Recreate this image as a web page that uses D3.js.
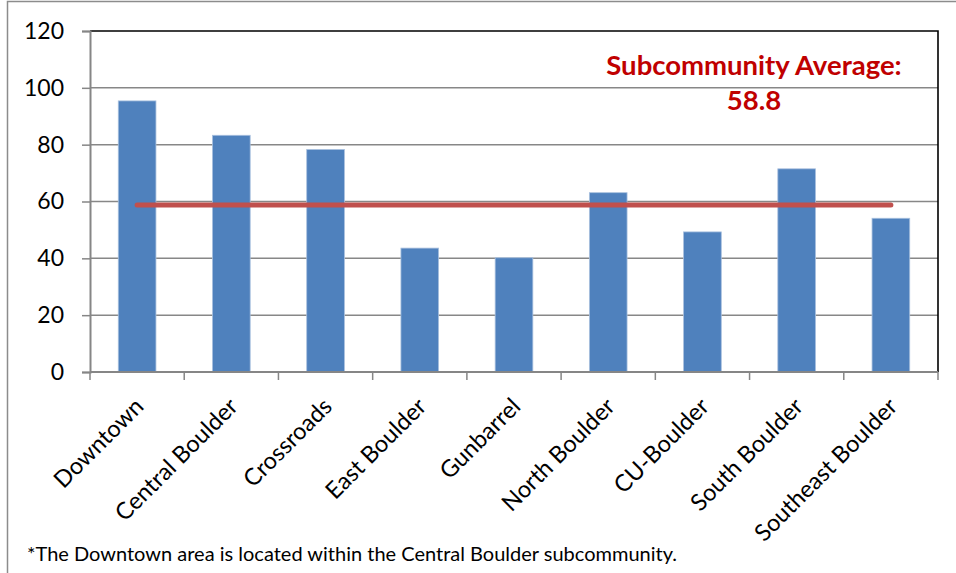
<!DOCTYPE html>
<html>
<head>
<meta charset="utf-8">
<script src="https://cdn.jsdelivr.net/npm/d3@7"></script>
<style>
  html, body { margin: 0; padding: 0; background: #fff; }
  svg { display: block; font-family: Lato, "Open Sans", sans-serif; }
</style>
</head>
<body>
<svg id="chart" width="956" height="573"></svg>
<script>
// Subcommunity scores
const categories = ["Downtown", "Central Boulder", "Crossroads", "East Boulder", "Gunbarrel",
                    "North Boulder", "CU-Boulder", "South Boulder", "Southeast Boulder"];
const values = [95.4, 83.3, 78.3, 43.6, 40.2, 63.1, 49.3, 71.5, 54.1];
const averageValue = 58.8;
const yTicks = [0, 20, 40, 60, 80, 100, 120];
const averageLabel = ["Subcommunity Average:", "58.8"];
const footnote = "*The Downtown area is located within the Central Boulder subcommunity.";

const svg = d3.select("#chart");
const margin = { left: 90, top: 31, right: 18, bottom: 201 };
const W = 956, H = 573;
const innerW = W - margin.left - margin.right;
const innerH = H - margin.top - margin.bottom;

// outer chart frame (extends past the page on the right and bottom)
svg.append("rect")
  .attr("x", 7.5).attr("y", 1.5)
  .attr("width", W + 20).attr("height", H + 20)
  .attr("fill", "none").attr("stroke", "#8c8c8c").attr("stroke-width", 1.5);

const g = svg.append("g").attr("transform", `translate(${margin.left},${margin.top})`);

const x = d3.scaleBand().domain(categories).range([0, innerW]).paddingInner(0.6).paddingOuter(0.3);
const y = d3.scaleLinear().domain([0, 120]).range([innerH, 0]);

// horizontal gridlines
g.append("g").selectAll("line")
  .data(yTicks.filter(t => t > 0 && t < 120))
  .join("line")
  .attr("x1", 0).attr("x2", innerW)
  .attr("y1", d => y(d)).attr("y2", d => y(d))
  .attr("stroke", "#878787").attr("stroke-width", 1.5);

// bars
g.append("g").selectAll("rect")
  .data(values)
  .join("rect")
  .attr("x", (d, i) => x(categories[i]))
  .attr("y", d => y(d))
  .attr("width", x.bandwidth())
  .attr("height", d => innerH - y(d))
  .attr("fill", "#4F81BD")
  .attr("stroke", "#a9c0de").attr("stroke-width", 0.8);

// plot frame: top and right in black
g.append("path")
  .attr("d", `M0,${y(120)}H${innerW}V${innerH}`)
  .attr("fill", "none").attr("stroke", "#000").attr("stroke-width", 1.6);

// average line, spanning first to last category centre
const xc = c => x(c) + x.bandwidth() / 2;
g.append("line")
  .attr("x1", xc(categories[0])).attr("x2", xc(categories[categories.length - 1]))
  .attr("y1", y(averageValue)).attr("y2", y(averageValue))
  .attr("stroke", "#C0504D").attr("stroke-width", 5).attr("stroke-linecap", "round");

// y axis
const yAxis = g.append("g")
  .call(d3.axisLeft(y).tickValues(yTicks).tickSize(8).tickPadding(18).tickFormat(d3.format("d")));
yAxis.select(".domain").attr("stroke", "#868686").attr("stroke-width", 2);
yAxis.selectAll(".tick line").attr("stroke", "#868686").attr("stroke-width", 1.5);
yAxis.selectAll(".tick text").attr("font-size", 23).attr("fill", "#000")
  .attr("font-family", "Lato, sans-serif");

// x axis: ticks at category boundaries
const step = x.step();
const boundaries = d3.range(categories.length + 1).map(i => i * step);
const xAxis = g.append("g").attr("transform", `translate(0,${innerH})`);
xAxis.append("line").attr("x1", 0).attr("x2", innerW)
  .attr("stroke", "#868686").attr("stroke-width", 2);
xAxis.selectAll("line.tk").data(boundaries).join("line").attr("class", "tk")
  .attr("x1", d => d).attr("x2", d => d).attr("y1", 0).attr("y2", 8)
  .attr("stroke", "#868686").attr("stroke-width", 1.5);
xAxis.selectAll("text").data(categories).join("text")
  .attr("transform", d => `translate(${xc(d) + 8},${36}) rotate(-45)`)
  .attr("text-anchor", "end")
  .attr("font-size", 23.5)
  .attr("fill", "#000")
  .text(d => d);

// average annotation
const ann = svg.append("text")
  .attr("text-anchor", "middle")
  .attr("font-size", 27.5).attr("font-weight", "bold").attr("fill", "#C00000");
ann.append("tspan").attr("x", 754).attr("y", 75).text(averageLabel[0]);
ann.append("tspan").attr("x", 754).attr("y", 110).text(averageLabel[1]);

// footnote
svg.append("text")
  .attr("x", 27).attr("y", 561)
  .attr("font-size", 20).attr("fill", "#000")
  .text(footnote);
</script>
</body>
</html>
